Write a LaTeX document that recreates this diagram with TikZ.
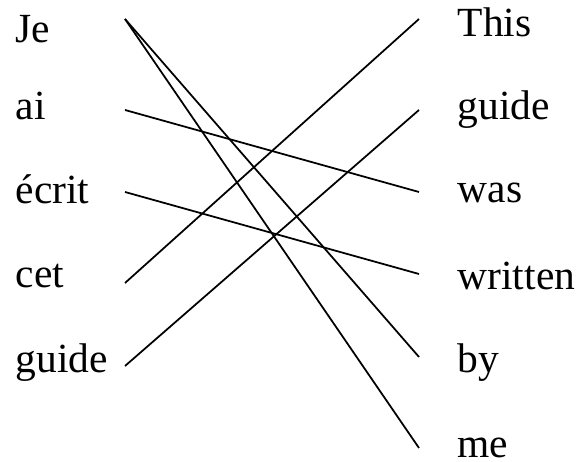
\documentclass[tikz,border=0pt]{standalone}
\usepackage{fontspec}
\setmainfont{Liberation Serif}
\usepackage{tikz}
\usetikzlibrary{positioning}
\tikzset{
  word/.style={
    anchor=base west,
    inner sep=0pt,
    font=\fontsize{11.8}{13}\selectfont
  },
  align line/.style={
    line width=0.5pt,
    color=black
  }
}

\begin{document}
\begin{tikzpicture}
  \useasboundingbox (0,0) rectangle (5.77,4.62);

  % French side
  \node[word] (je)    at (0.15,4.19) {Je};
  \node[word] (ai)    at (0.15,3.42) {ai};
  \node[word] (ecrit) at (0.15,2.58) {écrit};
  \node[word] (cet)   at (0.15,1.74) {cet};
  \node[word] (fguide) at (0.15,0.89) {guide};

  % English side
  \node[word] (this)    at (4.57,4.25) {This};
  \node[word] (eguide)  at (4.57,3.42) {guide};
  \node[word] (was)     at (4.57,2.59) {was};
  \node[word] (written) at (4.57,1.72) {written};
  \node[word] (by)      at (4.57,0.89) {by};
  \node[word] (me)      at (4.57,0.04) {me};

  % line ends
  \coordinate (je-p)     at (1.25,4.43);
  \coordinate (ai-p)     at (1.25,3.52);
  \coordinate (ecrit-p)  at (1.25,2.70);
  \coordinate (cet-p)    at (1.25,1.79);
  \coordinate (fguide-p) at (1.25,0.96);
  \coordinate (this-p)    at (4.19,4.43);
  \coordinate (eguide-p)  at (4.19,3.52);
  \coordinate (was-p)     at (4.19,2.70);
  \coordinate (written-p) at (4.19,1.88);
  \coordinate (by-p)      at (4.19,1.05);
  \coordinate (me-p)      at (4.19,0.14);

  \draw[align line] (je-p) -- (by-p);
  \draw[align line] (je-p) -- (me-p);
  \draw[align line] (ai-p) -- (was-p);
  \draw[align line] (ecrit-p) -- (written-p);
  \draw[align line] (cet-p) -- (this-p);
  \draw[align line] (fguide-p) -- (eguide-p);
\end{tikzpicture}
\end{document}
